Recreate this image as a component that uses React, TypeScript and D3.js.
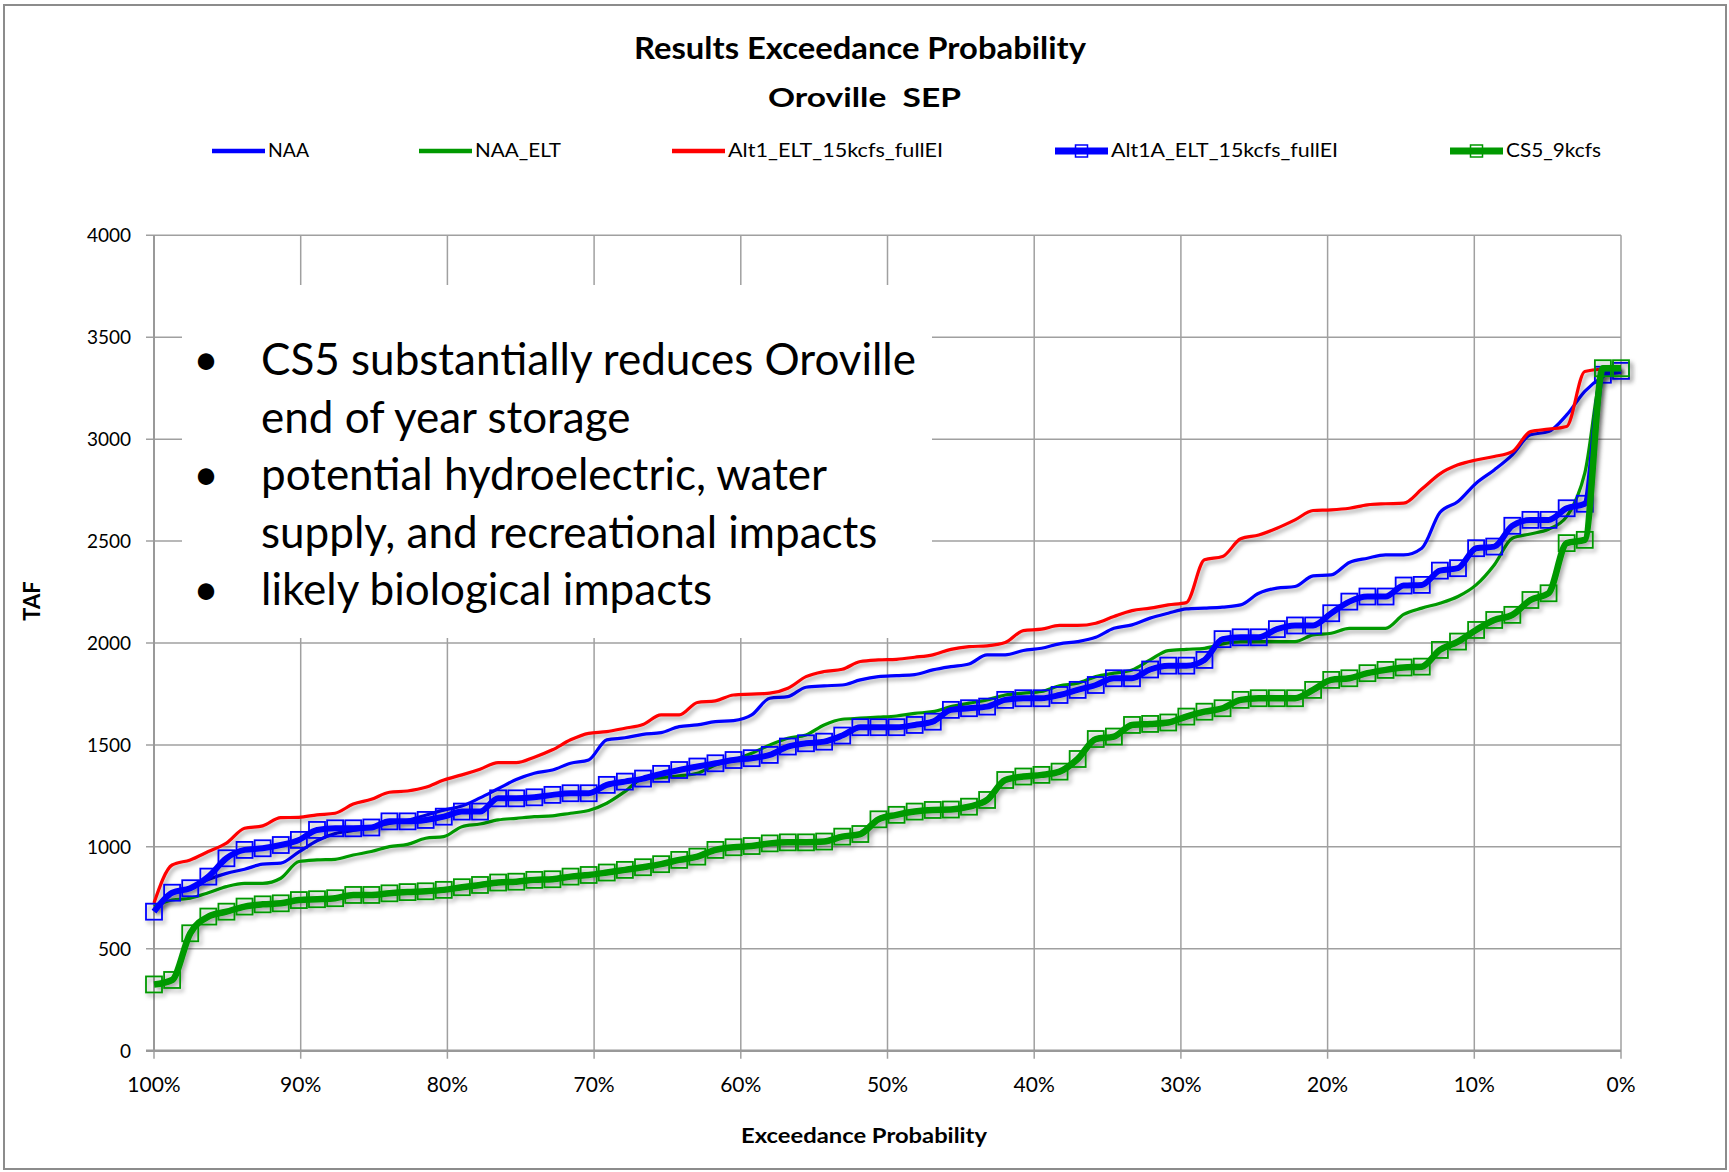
import React from 'react';
import * as d3 from 'd3';

const W = 1729;
const H = 1172;
const plot = { left: 154, right: 1621, top: 235.3, bottom: 1050.7 };

// tick labels
const xTickValues = [1, 0.9, 0.8, 0.7, 0.6, 0.5, 0.4, 0.3, 0.2, 0.1, 0];
const xTickLabels = ['100%', '90%', '80%', '70%', '60%', '50%', '40%', '30%', '20%', '10%', '0%'];
const yTickValues = [0, 500, 1000, 1500, 2000, 2500, 3000, 3500, 4000];

const seriesNames = ['NAA', 'NAA_ELT', 'Alt1_ELT_15kcfs_fullEI', 'Alt1A_ELT_15kcfs_fullEI', 'CS5_9kcfs'];

// end-of-September storage (TAF), sorted
const naa = [
  690, 770, 800, 840, 870, 890, 915, 920, 975, 1030, 1065, 1080, 1095, 1115, 1130, 1155, 1180, 1200, 1240, 1285,
  1330, 1361, 1377, 1410, 1426, 1525, 1535, 1552, 1560, 1590, 1598, 1614, 1619, 1647, 1729, 1737, 1783, 1790, 1794, 1819,
  1835, 1840, 1845, 1868, 1884, 1897, 1942, 1942, 1963, 1974, 1996, 2007, 2028, 2072, 2089, 2122, 2146, 2167, 2171, 2176,
  2187, 2244, 2269, 2277, 2329, 2334, 2395, 2416, 2432, 2432, 2465, 2640, 2694, 2784, 2849, 2923, 3021, 3037, 3119, 3234,
  3307, 3343,
];
const naaElt = [
  707, 739, 748, 775, 805, 821, 821, 846, 928, 936, 939, 960, 977, 1001, 1012, 1042, 1050, 1099, 1112, 1132,
  1140, 1148, 1152, 1165, 1178, 1214, 1271, 1335, 1340, 1348, 1361, 1402, 1426, 1459, 1500, 1533, 1549, 1598, 1626, 1631,
  1636, 1642, 1655, 1663, 1688, 1705, 1721, 1745, 1754, 1762, 1790, 1803, 1835, 1852, 1868, 1917, 1963, 1969, 1974, 1996,
  2007, 2007, 2007, 2007, 2040, 2048, 2072, 2072, 2072, 2140, 2171, 2195, 2228, 2285, 2383, 2514, 2535, 2558, 2620, 2833,
  3330, 3345,
];
const alt1 = [
  725, 911, 936, 977, 1018, 1091, 1103, 1143, 1145, 1157, 1165, 1210, 1233, 1268, 1274, 1292, 1328, 1353, 1381, 1413,
  1413, 1440, 1476, 1525, 1557, 1565, 1582, 1600, 1647, 1647, 1708, 1716, 1745, 1749, 1754, 1778, 1835, 1860, 1871, 1909,
  1917, 1920, 1930, 1942, 1969, 1982, 1986, 2002, 2061, 2068, 2086, 2086, 2097, 2130, 2159, 2171, 2187, 2198, 2408, 2424,
  2511, 2530, 2563, 2604, 2650, 2653, 2661, 2678, 2683, 2686, 2755, 2830, 2874, 2898, 2915, 2939, 3037, 3049, 3062, 3332,
  3343, 3345,
];
const alt1a = [
  682, 775, 797, 854, 944, 985, 993, 1009, 1034, 1083, 1091, 1091, 1095, 1125, 1125, 1132, 1148, 1173, 1173, 1238,
  1238, 1243, 1255, 1263, 1263, 1304, 1320, 1335, 1358, 1377, 1394, 1410, 1426, 1435, 1451, 1492, 1508, 1516, 1546, 1587,
  1587, 1587, 1598, 1614, 1672, 1680, 1688, 1721, 1729, 1729, 1745, 1770, 1794, 1827, 1827, 1870, 1889, 1889, 1917, 2019,
  2028, 2028, 2068, 2086, 2086, 2146, 2203, 2228, 2228, 2282, 2285, 2355, 2367, 2465, 2473, 2575, 2604, 2604, 2661, 2683,
  3316, 3335,
];
const cs5 = [
  325, 347, 576, 658, 682, 707, 718, 723, 739, 743, 748, 764, 764, 772, 778, 782, 789, 802, 813, 825,
  829, 838, 841, 854, 862, 874, 887, 900, 915, 936, 952, 985, 998, 1004, 1017, 1022, 1022, 1026, 1050, 1063,
  1135, 1157, 1173, 1181, 1183, 1197, 1230, 1328, 1345, 1353, 1369, 1431, 1529, 1541, 1598, 1603, 1610, 1639, 1663, 1680,
  1721, 1729, 1729, 1729, 1770, 1819, 1827, 1852, 1868, 1880, 1884, 1966, 2007, 2064, 2113, 2138, 2211, 2244, 2490, 2506,
  3348, 3348,
];

const bulletLines = [
  { bullet: true, text: 'CS5 substantially reduces Oroville' },
  { bullet: false, text: 'end of year storage' },
  { bullet: true, text: 'potential hydroelectric, water' },
  { bullet: false, text: 'supply, and recreational impacts' },
  { bullet: true, text: 'likely biological impacts' },
];

const BLUE = '#0000ff';
const GREEN = '#009900';
const RED = '#ff0000';

const series = [
  { name: seriesNames[0], values: naa, color: BLUE, width: 3.2, marker: false },
  { name: seriesNames[1], values: naaElt, color: GREEN, width: 3.2, marker: false },
  { name: seriesNames[2], values: alt1, color: RED, width: 3.2, marker: false },
  { name: seriesNames[3], values: alt1a, color: BLUE, width: 6, marker: true },
  { name: seriesNames[4], values: cs5, color: GREEN, width: 6.5, marker: true },
];

// legend layout
const legendX = [212, 419, 672, 1055, 1450];
const legendTextW = [41, 86, 215, 227, 95];

const font = 'Lato, "Open Sans", sans-serif';

export default function App() {
  const x = d3.scaleLinear().domain([1, 0]).range([plot.left, plot.right]);
  const y = d3.scaleLinear().domain([0, 4000]).range([plot.bottom, plot.top]);

  // exceedance probability of each ranked value
  const prob = (i: number, n: number) => 1 - i / (n - 1);

  const line = d3
    .line<number>()
    .x((d, i, arr) => x(prob(i, arr.length)))
    .y((d) => y(d))
    .curve(d3.curveMonotoneX);

  return (
    <svg width={W} height={H} style={{ position: 'absolute', left: 0, top: 0, background: '#fff' }} fontFamily={font}>
      <defs>
        <filter id="shadow" filterUnits="userSpaceOnUse" x="0" y="0" width={W} height={H}>
          <feDropShadow dx="2.5" dy="3" stdDeviation="2" floodColor="#000" floodOpacity="0.35" />
        </filter>
      </defs>
      <rect x={0} y={0} width={W} height={H} fill="#fff" />
      <rect x={4} y={5} width={1722} height={1164} fill="none" stroke="#8c8c8c" strokeWidth={2} />

      {/* titles */}
      <text x={634} y={59} fontWeight="bold" fontSize={31} textLength={452} lengthAdjust="spacingAndGlyphs">
        Results Exceedance Probability
      </text>
      <text x={768} y={107} fontWeight="bold" fontSize={26} textLength={193} lengthAdjust="spacingAndGlyphs" style={{ whiteSpace: 'pre' }}>
        Oroville  SEP
      </text>

      {/* legend */}
      {series.map((s, i) => (
        <g key={s.name}>
          <line x1={legendX[i]} x2={legendX[i] + 53} y1={151} y2={151} stroke={s.color} strokeWidth={s.marker ? 7 : 4.5} />
          {s.marker && (
            <rect x={legendX[i] + 26.5 - 6} y={151 - 6} width={12} height={12} fill="none" stroke={s.color} strokeWidth={1.5} />
          )}
          <text x={legendX[i] + 56} y={157} fontSize={19} textLength={legendTextW[i]} lengthAdjust="spacingAndGlyphs">
            {s.name}
          </text>
        </g>
      ))}

      {/* grid */}
      <g stroke="#a0a0a0" strokeWidth={1.5}>
        {yTickValues.map((v) => (
          <line key={'gy' + v} x1={plot.left - 8} x2={plot.right} y1={y(v)} y2={y(v)} />
        ))}
        {xTickValues.map((p) => (
          <line key={'gx' + p} x1={x(p)} x2={x(p)} y1={plot.top} y2={plot.bottom + 8} />
        ))}
      </g>
      <line x1={plot.left} x2={plot.left} y1={plot.top} y2={plot.bottom} stroke="#999" strokeWidth={2} />
      <line x1={plot.left - 8} x2={plot.right} y1={plot.bottom} y2={plot.bottom} stroke="#999" strokeWidth={2.5} />

      {/* tick labels */}
      {yTickValues.map((v) => (
        <text key={'ly' + v} x={131} y={y(v) + 7} textAnchor="end" fontSize={19}>{v}</text>
      ))}
      {xTickValues.map((p, i) => (
        <text key={'lx' + p} x={x(p)} y={1092} textAnchor="middle" fontSize={21}>{xTickLabels[i]}</text>
      ))}
      <text x={741} y={1143} fontWeight="bold" fontSize={21} textLength={246} lengthAdjust="spacingAndGlyphs">
        Exceedance Probability
      </text>
      <text transform="translate(40,601) rotate(-90)" textAnchor="middle" fontWeight="bold" fontSize={22}>TAF</text>

      {/* annotation box */}
      <rect x={182} y={285} width={750} height={353} fill="#fff" />
      {bulletLines.map((l, i) => (
        <g key={'b' + i}>
          {l.bullet && <text x={206} y={375 + i * 57.6} textAnchor="middle" fontSize={44}>•</text>}
          <text x={261} y={375 + i * 57.6} fontSize={44}>{l.text}</text>
        </g>
      ))}

      {/* series */}
      {series.map((s) => (
        <g key={'s' + s.name} filter="url(#shadow)">
          <path d={line(s.values) || ''} fill="none" stroke={s.color} strokeWidth={s.width} strokeLinejoin="round" />
          {s.marker &&
            s.values.map((v, i) => (
              <rect
                key={i}
                x={x(prob(i, s.values.length)) - 8}
                y={y(v) - 8}
                width={16}
                height={16}
                fill="none"
                stroke={s.color}
                strokeWidth={1.8}
              />
            ))}
        </g>
      ))}
    </svg>
  );
}
